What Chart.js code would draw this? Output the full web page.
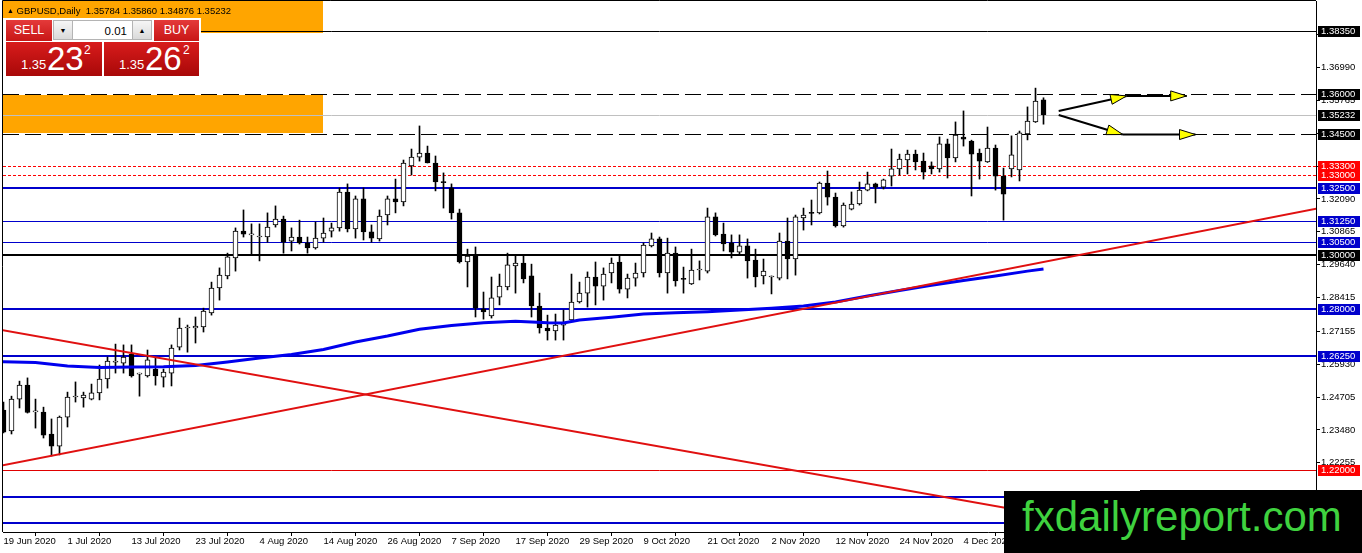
<!DOCTYPE html>
<html>
<head>
<meta charset="utf-8">
<title>GBPUSD,Daily</title>
<script src="https://cdn.jsdelivr.net/npm/chart.js@4.4.0/dist/chart.umd.min.js"></script>
<style>
html,body{margin:0;padding:0;background:#fff;overflow:hidden;}
#wrap{position:relative;width:1362px;height:553px;font-family:"Liberation Sans",Arial,sans-serif;}
#chart{position:absolute;left:0;top:0;}
#title{position:absolute;left:7px;top:5px;font-size:9.5px;line-height:11px;color:#000;white-space:pre;}
#title .tri{font-size:7px;vertical-align:1px;}
#oc{position:absolute;left:3px;top:18px;width:198px;height:60px;background:#fff;}
.btn{position:absolute;top:20px;height:21px;line-height:21px;color:#fff;font-size:12.5px;text-align:center;background:linear-gradient(#e43a3a,#c81616);}
.sp{position:absolute;top:20px;width:20px;height:20px;line-height:20px;font-size:7px;text-align:center;color:#000;background:linear-gradient(#f6f6f6,#dadada);border:1px solid #b4b4b4;box-sizing:border-box;}
#lot{position:absolute;left:73px;top:20px;width:59px;height:20px;line-height:20px;font-size:11.5px;text-align:right;padding-right:5px;box-sizing:border-box;background:#fff;border-top:1px solid #b4b4b4;border-bottom:1px solid #b4b4b4;}
.px{position:absolute;top:42px;height:34px;background:linear-gradient(#d81c1c,#a80808);color:#fff;}
.px span{position:absolute;white-space:pre;}
.px .s{top:16px;font-size:13px;line-height:13px;}
.px .b{top:0px;font-size:33px;line-height:33px;}
.px .t{top:2px;font-size:12px;line-height:12px;}
#logo{position:absolute;left:1004px;top:491px;width:358px;height:62px;background:#000;}
#logo2{position:absolute;left:1140px;top:490px;width:222px;height:2px;background:#000;}
#logo span{position:absolute;left:18px;top:5px;font-size:42px;line-height:42px;color:#3fd23f;white-space:pre;}
</style>
</head>
<body>
<div id="wrap">
<canvas id="chart" width="1362" height="553"></canvas>
<div id="title"><span class="tri">▲</span> GBPUSD,Daily  1.35784 1.35860 1.34876 1.35232</div>
<div id="oc"></div>
<div class="btn" style="left:6px;width:46px;">SELL</div>
<div class="sp" style="left:53px;">▼</div>
<div id="lot">0.01</div>
<div class="sp" style="left:132px;">▲</div>
<div class="btn" style="left:154px;width:45px;">BUY</div>
<div class="px" style="left:6px;width:96px;"><span class="s" style="left:15px;">1.35</span><span class="b" style="left:41px;">23</span><span class="t" style="left:78px;">2</span></div>
<div class="px" style="left:104px;width:95px;"><span class="s" style="left:15px;">1.35</span><span class="b" style="left:41px;">26</span><span class="t" style="left:79px;">2</span></div>
<div id="logo2"></div>
<div id="logo"><span>fxdailyreport.com</span></div>
</div>
<script>
// trading days shown on the chart
var dates = ['19 Jun','22 Jun','23 Jun','24 Jun','25 Jun','26 Jun','29 Jun','30 Jun',
  '1 Jul','2 Jul','3 Jul','6 Jul','7 Jul','8 Jul','9 Jul','10 Jul','13 Jul','14 Jul','15 Jul','16 Jul','17 Jul','20 Jul','21 Jul','22 Jul','23 Jul','24 Jul','27 Jul','28 Jul','29 Jul','30 Jul','31 Jul',
  '3 Aug','4 Aug','5 Aug','6 Aug','7 Aug','10 Aug','11 Aug','12 Aug','13 Aug','14 Aug','17 Aug','18 Aug','19 Aug','20 Aug','21 Aug','24 Aug','25 Aug','26 Aug','27 Aug','28 Aug','31 Aug',
  '1 Sep','2 Sep','3 Sep','4 Sep','7 Sep','8 Sep','9 Sep','10 Sep','11 Sep','14 Sep','15 Sep','16 Sep','17 Sep','18 Sep','21 Sep','22 Sep','23 Sep','24 Sep','25 Sep','28 Sep','29 Sep','30 Sep',
  '1 Oct','2 Oct','5 Oct','6 Oct','7 Oct','8 Oct','9 Oct','12 Oct','13 Oct','14 Oct','15 Oct','16 Oct','19 Oct','20 Oct','21 Oct','22 Oct','23 Oct','26 Oct','27 Oct','28 Oct','29 Oct','30 Oct',
  '2 Nov','3 Nov','4 Nov','5 Nov','6 Nov','9 Nov','10 Nov','11 Nov','12 Nov','13 Nov','16 Nov','17 Nov','18 Nov','19 Nov','20 Nov','23 Nov','24 Nov','25 Nov','26 Nov','27 Nov','30 Nov',
  '1 Dec','2 Dec','3 Dec','4 Dec','7 Dec','8 Dec','9 Dec','10 Dec','11 Dec','14 Dec','15 Dec','16 Dec','17 Dec','18 Dec'];

var opens = [1.2422,1.2344,1.2463,1.2515,1.2415,1.2415,1.2333,1.2288,1.2396,1.2471,
  1.2467,1.2463,1.2486,1.2538,1.2601,1.2597,1.2631,1.2556,1.2549,1.2575,
  1.2545,1.2560,1.2657,1.2728,1.2728,1.2732,1.2784,1.2877,1.2922,1.2989,
  1.3089,1.3075,1.3067,1.3067,1.3112,1.3134,1.3052,1.3067,1.3045,1.3026,
  1.3063,1.3089,1.3101,1.3235,1.3097,1.3209,1.3086,1.3060,1.3149,1.3209,
  1.3198,1.3332,1.3365,1.3380,1.3343,1.3272,1.3250,1.3157,1.2974,1.2996,
  1.2799,1.2773,1.2843,1.2881,1.2959,1.2970,1.2922,1.2810,1.2728,1.2717,
  1.2739,1.2758,1.2825,1.2858,1.2918,1.2884,1.2933,1.2974,1.2873,1.2914,
  1.2933,1.3034,1.3060,1.2933,1.3007,1.2911,1.2892,1.2944,1.2940,1.3142,
  1.3078,1.3045,1.3011,1.3034,1.2981,1.2922,1.2918,1.2914,1.3052,1.2985,
  1.3138,1.3157,1.3157,1.3268,1.3216,1.3108,1.3171,1.3190,1.3242,1.3265,
  1.3253,1.3294,1.3321,1.3354,1.3376,1.3350,1.3332,1.3321,1.3414,1.3362,
  1.3440,1.3425,1.3380,1.3347,1.3399,1.3294,1.3321,1.3317,1.3451,1.3496,
  1.35784];
var highs = [1.2452,1.2474,1.2530,1.2542,1.2463,1.2433,1.2389,1.2400,1.2489,1.2527,
  1.2489,1.2519,1.2590,1.2620,1.2668,1.2665,1.2665,1.2560,1.2646,1.2616,
  1.2575,1.2665,1.2765,1.2739,1.2769,1.2802,1.2899,1.2952,1.3007,1.3101,
  1.3168,1.3116,1.3116,1.3157,1.3183,1.3145,1.3101,1.3130,1.3067,1.3123,
  1.3138,1.3119,1.3250,1.3265,1.3220,1.3250,1.3112,1.3168,1.3220,1.3283,
  1.3354,1.3395,1.3481,1.3406,1.3369,1.3306,1.3265,1.3171,1.3022,1.3030,
  1.2862,1.2918,1.2929,1.3007,1.3000,1.3000,1.2966,1.2858,1.2776,1.2780,
  1.2795,1.2929,1.2899,1.2937,1.2974,1.2952,1.2989,1.2996,1.2929,1.2970,
  1.3045,1.3082,1.3067,1.3063,1.3030,1.2955,1.3022,1.2978,1.3175,1.3157,
  1.3119,1.3075,1.3075,1.3060,1.3022,1.2985,1.2922,1.3082,1.3138,1.3149,
  1.3175,1.3205,1.3272,1.3313,1.3231,1.3194,1.3235,1.3272,1.3309,1.3268,
  1.3283,1.3395,1.3376,1.3391,1.3391,1.3380,1.3347,1.3440,1.3432,1.3496,
  1.3537,1.3428,1.3395,1.3477,1.3410,1.3324,1.3444,1.3462,1.3552,1.3622,
  1.35860];
var lows = [1.2337,1.2333,1.2430,1.2411,1.2355,1.2318,1.2251,1.2255,1.2359,1.2452,
  1.2433,1.2460,1.2460,1.2504,1.2560,1.2560,1.2545,1.2474,1.2545,1.2515,
  1.2508,1.2512,1.2646,1.2638,1.2672,1.2713,1.2776,1.2832,1.2911,1.2940,
  1.3067,1.3004,1.2978,1.3048,1.3104,1.3007,1.3015,1.3041,1.3007,1.3022,
  1.3048,1.3067,1.3089,1.3086,1.3063,1.3056,1.3048,1.3052,1.3112,1.3157,
  1.3183,1.3298,1.3350,1.3343,1.3239,1.3175,1.3134,1.2970,1.2881,1.2769,
  1.2761,1.2765,1.2814,1.2870,1.2858,1.2896,1.2769,1.2709,1.2683,1.2683,
  1.2683,1.2755,1.2821,1.2806,1.2814,1.2832,1.2896,1.2858,1.2840,1.2884,
  1.2918,1.3030,1.2918,1.2858,1.2884,1.2858,1.2890,1.2907,1.2933,1.3071,
  1.3015,1.2989,1.3000,1.2914,1.2881,1.2892,1.2855,1.2907,1.2911,1.2925,
  1.3093,1.3112,1.3153,1.3186,1.3104,1.3104,1.3168,1.3186,1.3239,1.3194,
  1.3246,1.3257,1.3298,1.3302,1.3317,1.3283,1.3302,1.3309,1.3287,1.3347,
  1.3406,1.3220,1.3283,1.3345,1.3242,1.3130,1.3291,1.3276,1.3429,1.3494,
  1.34876];
var closes = [1.2340,1.2463,1.2515,1.2413,1.2419,1.2329,1.2288,1.2396,1.2471,1.2474,
  1.2478,1.2486,1.2538,1.2605,1.2605,1.2620,1.2549,1.2558,1.2609,1.2549,
  1.2564,1.2653,1.2728,1.2730,1.2735,1.2791,1.2877,1.2925,1.2993,1.3089,
  1.3078,1.3077,1.3069,1.3104,1.3134,1.3048,1.3067,1.3045,1.3026,1.3063,
  1.3082,1.3101,1.3235,1.3097,1.3209,1.3086,1.3063,1.3145,1.3209,1.3198,
  1.3343,1.3365,1.3380,1.3343,1.3272,1.3270,1.3157,1.2974,1.2996,1.2802,
  1.2788,1.2840,1.2884,1.2963,1.2970,1.2911,1.2810,1.2728,1.2717,1.2739,
  1.2747,1.2825,1.2858,1.2918,1.2884,1.2929,1.2970,1.2873,1.2914,1.2933,
  1.3037,1.3060,1.2933,1.3007,1.2903,1.2909,1.2944,1.2946,1.3142,1.3075,
  1.3041,1.3011,1.3034,1.2978,1.2918,1.2940,1.2920,1.3052,1.2985,1.3142,
  1.3149,1.3155,1.3268,1.3216,1.3108,1.3186,1.3190,1.3242,1.3265,1.3253,
  1.3280,1.3321,1.3358,1.3376,1.3347,1.3309,1.3321,1.3414,1.3362,1.3447,
  1.3432,1.3376,1.3350,1.3399,1.3294,1.3227,1.3373,1.3455,1.3499,1.3574,
  1.35232];

// moving average read at a few bars
var maIdx = [-1,0,4,8,12,16,20,24,28,32,36,40,44,48,52,56,60,64,68,70,72,76,80,84,88,92,96,100,104,108,112,116,120,124,128,130];
var maVal = [1.2603,1.2602,1.2599,1.2586,1.2581,1.2583,1.2584,1.2588,1.2601,1.2616,1.2629,1.2648,1.2676,1.2698,1.2723,1.2737,1.2748,1.2753,1.2748,1.2747,1.2758,1.2768,1.2780,1.2785,1.2789,1.2795,1.2802,1.2810,1.2825,1.2847,1.2868,1.2887,1.2905,1.2922,1.2940,1.2948];

// trend lines (bar index, price)
var trendUpX = [-2, 166], trendUpY = [1.2205, 1.3184];
var trendDnX = [-2, 150], trendDnY = [1.2730, 1.1927];
// arrow objects: start/end of each segment
var arrowX1 = [131.9, 140.4, 131.9, 139.9];
var arrowY1 = [1.3537, 1.3593, 1.3522, 1.3449];
var arrowX2 = [140.4, 147.9, 139.9, 149.0];
var arrowY2 = [1.3593, 1.3593, 1.3449, 1.3449];

// horizontal levels
var levelValues = [1.38350, 1.36000, 1.35232, 1.34500, 1.33300, 1.33000, 1.32500, 1.31250, 1.30500, 1.30000, 1.28000, 1.26250, 1.22000, 1.21000, 1.20000];

// orange zones: from bar, to bar, top, bottom
var zoneX1 = [-2, -2], zoneX2 = [39.94, 39.94];
var zoneTop = [1.4000, 1.3600], zoneBottom = [1.3826, 1.3453];

var yTicks = [1.38215, 1.36990, 1.35765, 1.34540, 1.33315, 1.32090, 1.30865, 1.29640, 1.28415, 1.27155, 1.25930, 1.24705, 1.23480, 1.22255];
var xTickPos = [0, 8, 16, 24, 32, 40, 48, 56, 64, 72, 80, 88, 96, 104, 112, 120];
var xTickLabels = ['19 Jun 2020','1 Jul 2020','13 Jul 2020','23 Jul 2020','4 Aug 2020','14 Aug 2020','26 Aug 2020','7 Sep 2020','17 Sep 2020','29 Sep 2020','9 Oct 2020','21 Oct 2020','2 Nov 2020','12 Nov 2020','24 Nov 2020','4 Dec 2020'];

// look of each level line and its axis box
var BLUE = '#0000cc';
var levelLook = [
  {c:'#000', w:1, box:'#000'},
  {c:'#000', w:1, dash:[16,6], box:'#000'},
  {c:'#c0c0c0', w:1, box:'#000'},
  {c:'#000', w:1, dash:[16,6], box:'#000'},
  {c:'#ff0000', w:1, dash:[3,2], box:'#ff0000'},
  {c:'#ff0000', w:1, dash:[3,2], box:'#ff0000'},
  {c:BLUE, w:2, box:BLUE},
  {c:BLUE, w:1, box:BLUE},
  {c:BLUE, w:1, box:BLUE},
  {c:'#000', w:2, box:'#000'},
  {c:BLUE, w:2, box:BLUE},
  {c:BLUE, w:2, box:BLUE},
  {c:'#e00000', w:1, box:'#ff0000'},
  {c:BLUE, w:2, box:BLUE},
  {c:BLUE, w:2, box:BLUE}
];

var FONT = 'Liberation Sans';
Chart.defaults.font.family = FONT;
Chart.defaults.font.size = 9.5;
Chart.defaults.color = '#000';

function xy(xs, ys) {
  var out = [];
  for (var i = 0; i < xs.length; i++) out.push({x: xs[i], y: ys[i]});
  return out;
}

var bodies = [], wicks = [], bodyColors = [];
for (var i = 0; i < opens.length; i++) {
  bodies.push({x: i, y: [opens[i], closes[i]]});
  wicks.push({x: i, y: [lows[i], highs[i]]});
  bodyColors.push(closes[i] >= opens[i] ? '#ffffff' : '#000000');
}

var mtPlugin = {
  id: 'mt',
  beforeDatasetsDraw: function(chart) {
    var ctx = chart.ctx, a = chart.chartArea;
    var xs = chart.scales.x, ys = chart.scales.y;
    ctx.save();
    ctx.beginPath();
    ctx.rect(a.left, a.top, a.right - a.left, a.bottom - a.top);
    ctx.clip();
    // orange zones
    ctx.fillStyle = '#ffa500';
    for (var k = 0; k < zoneX1.length; k++) {
      var x1 = xs.getPixelForValue(zoneX1[k]), x2 = Math.round(xs.getPixelForValue(zoneX2[k]));
      var y1 = Math.round(ys.getPixelForValue(zoneTop[k])), y2 = Math.round(ys.getPixelForValue(zoneBottom[k]));
      ctx.fillRect(x1, y1, x2 - x1, y2 - y1);
    }
    // level lines
    for (var i = 0; i < levelValues.length; i++) {
      var lk = levelLook[i];
      var y = Math.round(ys.getPixelForValue(levelValues[i])) + (lk.w % 2 ? 0.5 : 0);
      ctx.lineWidth = lk.w;
      if (lk.dash) {
        ctx.setLineDash([]);
        ctx.strokeStyle = '#fff';
        ctx.beginPath(); ctx.moveTo(a.left, y); ctx.lineTo(a.right, y); ctx.stroke();
        ctx.setLineDash(lk.dash);
      } else {
        ctx.setLineDash([]);
      }
      ctx.strokeStyle = lk.c;
      ctx.beginPath(); ctx.moveTo(a.left, y); ctx.lineTo(a.right, y); ctx.stroke();
    }
    ctx.restore();
  },
  afterDatasetsDraw: function(chart) {
    var ctx = chart.ctx, a = chart.chartArea;
    var xs = chart.scales.x, ys = chart.scales.y;
    ctx.save();
    ctx.beginPath();
    ctx.rect(a.left, a.top, a.right - a.left, a.bottom - a.top);
    ctx.clip();
    // yellow arrow heads at the end of each segment
    for (var i = 0; i < arrowX1.length; i++) {
      var px1 = xs.getPixelForValue(arrowX1[i]), py1 = ys.getPixelForValue(arrowY1[i]);
      var px2 = xs.getPixelForValue(arrowX2[i]), py2 = ys.getPixelForValue(arrowY2[i]);
      var ang = Math.atan2(py2 - py1, px2 - px1);
      var L = 16, W = 5;
      var bx = px2 - L * Math.cos(ang), by = py2 - L * Math.sin(ang);
      ctx.beginPath();
      ctx.moveTo(px2, py2);
      ctx.lineTo(bx - W * Math.sin(ang), by + W * Math.cos(ang));
      ctx.lineTo(bx + W * Math.sin(ang), by - W * Math.cos(ang));
      ctx.closePath();
      ctx.fillStyle = '#ffff00';
      ctx.fill();
      ctx.lineWidth = 1;
      ctx.strokeStyle = '#000';
      ctx.stroke();
    }
    ctx.restore();
  },
  afterDraw: function(chart) {
    var ctx = chart.ctx, a = chart.chartArea, ys = chart.scales.y;
    ctx.save();
    // frame
    ctx.strokeStyle = '#000';
    ctx.lineWidth = 1;
    ctx.beginPath();
    ctx.moveTo(2.5, a.bottom); ctx.lineTo(2.5, 0.5); ctx.lineTo(a.right, 0.5);
    ctx.stroke();
    // price boxes on the axis, low prices first so higher ones sit on top
    ctx.font = '9.5px ' + FONT;
    ctx.textBaseline = 'middle';
    ctx.textAlign = 'left';
    for (var i = levelValues.length - 1; i >= 0; i--) {
      var y = Math.round(ys.getPixelForValue(levelValues[i]));
      ctx.fillStyle = levelLook[i].box;
      ctx.fillRect(a.right + 2, y - 5, 42, 11);
      ctx.fillStyle = '#fff';
      ctx.fillText(levelValues[i].toFixed(5), a.right + 5, y + 0.5);
    }
    ctx.restore();
  }
};

var ctx = document.getElementById('chart');
var chart = new Chart(ctx, {
  type: 'bar',
  data: {
    datasets: [
      {
        type: 'line', label: 'arrow1', data: xy([arrowX1[0], arrowX2[0]], [arrowY1[0], arrowY2[0]]),
        borderColor: '#000', borderWidth: 2, pointRadius: 0, order: 1
      },
      {
        type: 'line', label: 'arrow2', data: xy([arrowX1[1], arrowX2[1]], [arrowY1[1], arrowY2[1]]),
        borderColor: '#000', borderWidth: 2, pointRadius: 0, order: 1
      },
      {
        type: 'line', label: 'arrow3', data: xy([arrowX1[2], arrowX2[2]], [arrowY1[2], arrowY2[2]]),
        borderColor: '#000', borderWidth: 2, pointRadius: 0, order: 1
      },
      {
        type: 'line', label: 'arrow4', data: xy([arrowX1[3], arrowX2[3]], [arrowY1[3], arrowY2[3]]),
        borderColor: '#000', borderWidth: 2, pointRadius: 0, order: 1
      },
      {
        type: 'line', label: 'trend up', data: xy(trendUpX, trendUpY),
        borderColor: '#e01010', borderWidth: 2, pointRadius: 0, order: 2
      },
      {
        type: 'line', label: 'trend down', data: xy(trendDnX, trendDnY),
        borderColor: '#e01010', borderWidth: 2, pointRadius: 0, order: 2
      },
      {
        type: 'line', label: 'MA', data: xy(maIdx, maVal),
        borderColor: '#0000ee', borderWidth: 3, pointRadius: 0, order: 3
      },
      {
        label: 'body', data: bodies,
        backgroundColor: bodyColors, borderColor: '#000', borderWidth: 1,
        borderSkipped: false, barThickness: 5, minBarLength: 1, grouped: false, order: 8
      },
      {
        label: 'wick', data: wicks,
        backgroundColor: '#000', borderWidth: 0,
        barThickness: 1, minBarLength: 1, grouped: false, order: 9
      }
    ]
  },
  options: {
    responsive: false,
    animation: false,
    devicePixelRatio: 1,
    events: [],
    layout: { padding: { left: 3, top: 1, right: 0, bottom: 0 } },
    plugins: { legend: { display: false }, tooltip: { enabled: false } },
    scales: {
      x: {
        type: 'linear', offset: false,
        min: -0.0625, max: 164.0625,
        grid: { display: true, drawOnChartArea: false, drawTicks: true, tickLength: 4, color: '#000' },
        border: { display: true, color: '#000' },
        ticks: {
          autoSkip: false, maxRotation: 0, align: 'start', padding: 0,
          callback: function(v) {
            var k = xTickPos.indexOf(v);
            return k >= 0 ? xTickLabels[k] : '';
          }
        },
        afterBuildTicks: function(s) {
          s.ticks = xTickPos.map(function(v) { return {value: v}; });
        },
        afterFit: function(s) {
          s.height = 21;
          s.paddingLeft = 0; s.paddingRight = 0; s.paddingTop = 0; s.paddingBottom = 0;
        }
      },
      y: {
        type: 'linear', position: 'right',
        min: 1.19677, max: 1.39467,
        grid: { display: true, drawOnChartArea: false, drawTicks: true, tickLength: 4, color: '#000' },
        border: { display: true, color: '#000' },
        ticks: {
          autoSkip: false, padding: 1,
          callback: function(v) { return v.toFixed(5); }
        },
        afterBuildTicks: function(s) {
          s.ticks = yTicks.map(function(v) { return {value: v}; });
        },
        afterFit: function(s) {
          s.width = 46;
          s.paddingLeft = 0; s.paddingRight = 0; s.paddingTop = 0; s.paddingBottom = 0;
        }
      }
    }
  },
  plugins: [mtPlugin]
});
</script>
</body>
</html>
